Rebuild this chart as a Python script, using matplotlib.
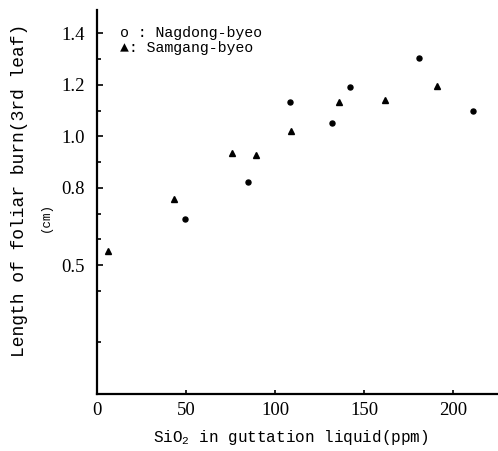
import matplotlib
matplotlib.use("Agg")
import matplotlib.pyplot as plt
from matplotlib.ticker import FixedLocator

# Data
nag_x = [49.6, 84.5, 108.2, 131.8, 142.0, 180.8, 211.0]
nag_y = [0.68, 0.823, 1.133, 1.052, 1.191, 1.303, 1.098]
sam_x = [6.4, 43.4, 75.5, 89.0, 108.7, 135.8, 161.7, 191.0]
sam_y = [0.554, 0.755, 0.936, 0.928, 1.021, 1.133, 1.141, 1.195]

xticks = [0, 50, 100, 150, 200]
yticks = [0.5, 0.8, 1.0, 1.2, 1.4]
yminor = [0.2, 0.4, 0.6, 0.7, 0.9, 1.1, 1.3]

plt.rcParams['mathtext.default'] = 'regular'

fig = plt.figure(figsize=(4.98, 4.51), dpi=100)
ax = fig.add_axes([97/498, 57/451, 401/498, 384/451])

ax.plot(nag_x, nag_y, linestyle='none', marker='o', ms=3.6, color='black')
ax.plot(sam_x, sam_y, linestyle='none', marker='^', ms=3.8, color='black')

ax.set_xlim(0, 225)
ax.set_ylim(0, 1.49)

for s in ['top', 'right']:
    ax.spines[s].set_visible(False)
for s in ['left', 'bottom']:
    ax.spines[s].set_linewidth(1.6)

ax.set_xticks(xticks)
ax.set_yticks(yticks)
ax.yaxis.set_minor_locator(FixedLocator(yminor))
ax.set_yticklabels([f"{v:.1f}" for v in yticks])
ax.set_xticklabels([str(v) for v in xticks])

ax.tick_params(axis='both', which='both', direction='in', width=1.2)
ax.tick_params(axis='y', which='major', length=4, pad=9)
ax.tick_params(axis='y', which='minor', length=3)
ax.tick_params(axis='x', which='major', length=3, pad=6)
for lab in ax.get_xticklabels() + ax.get_yticklabels():
    lab.set_fontfamily('Liberation Serif')
    lab.set_fontsize(13.5)

mono = ['Liberation Mono', 'DejaVu Sans Mono']
ax.text(-0.1925, 0.529, 'Length of foliar burn(3rd leaf)', transform=ax.transAxes,
        rotation=90, ha='center', va='center', family=mono, fontsize=13)
ax.text(-0.1275, 0.461, '(cm)', transform=ax.transAxes, rotation=90,
        ha='center', va='center', family=mono, fontsize=9)

ax.text(0.4825, -0.112, 'SiO$_2$ in guttation liquid(ppm)', transform=ax.transAxes,
        ha='center', va='center', family=mono, fontsize=11.5)

ax.text(0.0575, 0.94, 'o : Nagdong-byeo', transform=ax.transAxes,
        ha='left', va='center', family=mono, fontsize=10.7)
ax.text(0.0575, 0.901, '\u25b2: Samgang-byeo', transform=ax.transAxes,
        ha='left', va='center', family=mono, fontsize=10.7)

fig.savefig('out.png', dpi=100)
